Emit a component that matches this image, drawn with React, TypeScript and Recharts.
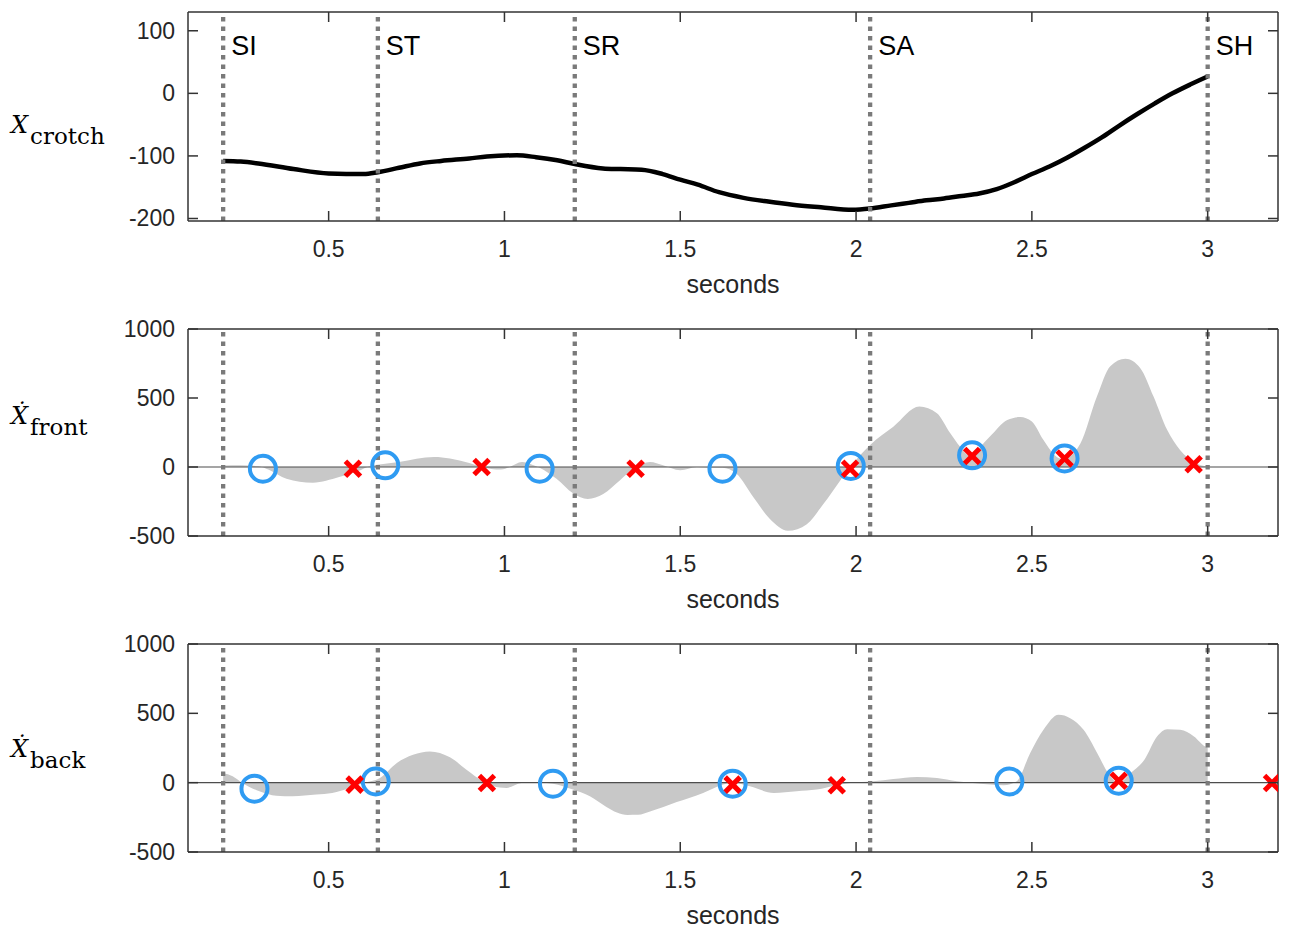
import React from 'react';
import {
  ComposedChart,
  Line,
  Area,
  Scatter,
  XAxis,
  YAxis,
  ReferenceLine
} from 'recharts';

// Gait phase events (seconds) and their names
const eventTimes = [0.2, 0.64, 1.2, 2.04, 3.0];
const eventNames = ['SI', 'ST', 'SR', 'SA', 'SH'];

const xTicks = [0.5, 1, 1.5, 2, 2.5, 3];
const posTicks = [-200, -100, 0, 100];
const velTicks = [-500, 0, 500, 1000];

// Crotch position
const crotchTime = [0.2, 0.25, 0.3, 0.4, 0.5, 0.6, 0.64, 0.7, 0.76, 0.82, 0.9, 0.95, 1.035, 1.09, 1.15, 1.2, 1.28, 1.33, 1.39, 1.45, 1.5, 1.55, 1.61, 1.68, 1.75, 1.82, 1.9, 1.99, 2.04, 2.1, 2.15, 2.2, 2.25, 2.3, 2.35, 2.4, 2.45, 2.5, 2.55, 2.6, 2.65, 2.7, 2.75, 2.8, 2.85, 2.9, 2.95, 3.0];
const crotchPos = [-108, -109, -112, -121, -128, -129, -126, -119, -112, -108, -104, -101, -99, -102, -107, -113, -120, -121, -122, -129, -138, -146, -158, -167, -173, -178, -182, -186, -184, -179, -175, -171, -168, -164, -160, -153, -142, -129, -117, -103, -87, -70, -51, -33, -16, 0, 14, 27];

// Front velocity
const frontTime = [0.2, 0.25, 0.3, 0.33, 0.38, 0.455, 0.53, 0.59, 0.61, 0.7, 0.8, 0.845, 0.9, 0.935, 0.99, 1.015, 1.05, 1.077, 1.1, 1.148, 1.195, 1.237, 1.281, 1.328, 1.373, 1.414, 1.451, 1.5, 1.547, 1.584, 1.62, 1.66, 1.708, 1.755, 1.806, 1.86, 1.907, 1.955, 1.983, 2.04, 2.106, 2.18, 2.23, 2.268, 2.296, 2.32, 2.38, 2.43, 2.467, 2.5, 2.533, 2.571, 2.59, 2.638, 2.685, 2.723, 2.766, 2.808, 2.846, 2.885, 2.922, 2.96, 3.0];
const frontVel = [10, 12, 5, -20, -85, -114, -73, -24, 0, 37, 73, 62, 29, 0, -19, 0, 36, 19, -5, -85, -190, -231, -195, -97, 0, 36, 12, -24, 0, -5, -5, -49, -219, -377, -462, -414, -268, -97, 0, 160, 292, 438, 390, 244, 146, 85, 219, 340, 362, 329, 195, 73, 58, 170, 511, 730, 784, 718, 511, 268, 122, 37, 2];

// Back velocity
const backTime = [0.2, 0.227, 0.253, 0.303, 0.351, 0.398, 0.465, 0.51, 0.56, 0.599, 0.646, 0.694, 0.74, 0.788, 0.845, 0.892, 0.939, 0.968, 1.006, 1.048, 1.091, 1.138, 1.195, 1.243, 1.29, 1.32, 1.35, 1.38, 1.414, 1.49, 1.565, 1.622, 1.649, 1.698, 1.766, 1.831, 1.888, 1.945, 1.983, 2.049, 2.106, 2.173, 2.23, 2.287, 2.325, 2.381, 2.42, 2.457, 2.495, 2.533, 2.576, 2.609, 2.647, 2.686, 2.714, 2.747, 2.781, 2.82, 2.856, 2.885, 2.922, 2.961, 2.993, 3.0];
const backVel = [70, 46, 0, -62, -94, -98, -86, -74, -38, -2, 34, 142, 201, 225, 183, 94, 10, -26, -38, -2, 2, -7, -50, -98, -175, -215, -233, -232, -208, -140, -74, -14, 2, -26, -74, -62, -50, -19, -2, 10, 26, 41, 34, 10, 0, -14, -19, 10, 213, 381, 489, 465, 381, 213, 81, 0, 70, 165, 333, 386, 381, 333, 261, 255];

// Detected events (circles and crosses)
const frontCircleTime = [0.313, 0.661, 1.1, 1.62, 1.985, 2.33, 2.593];
const frontCircleVel = [-12, 12, -12, -12, 8, 85, 62];
const frontCrossTime = [0.569, 0.935, 1.373, 1.983, 2.33, 2.593, 2.96];
const frontCrossVel = [-12, 0, -12, -12, 80, 62, 20];
const backCircleTime = [0.289, 0.634, 1.138, 1.649, 2.436, 2.747];
const backCircleVel = [-43, 9, -7, -7, 9, 14];
const backCrossTime = [0.574, 0.95, 1.649, 1.945, 2.747, 3.183];
const backCrossVel = [-14, -2, -14, -19, 14, -2];

const toPoints = (t: number[], v: number[]) => t.map((x, i) => ({ t: x, v: v[i] }));

const crotchData = toPoints(crotchTime, crotchPos);
const frontData = toPoints(frontTime, frontVel);
const backData = toPoints(backTime, backVel);
const frontCircles = toPoints(frontCircleTime, frontCircleVel);
const frontCrosses = toPoints(frontCrossTime, frontCrossVel);
const backCircles = toPoints(backCircleTime, backCircleVel);
const backCrosses = toPoints(backCrossTime, backCrossVel);

const X_DOMAIN: [number, number] = [0.1, 3.2];
const FRAME = '#333333';
const INK = '#262626';
const BLUE = '#2f9bf2';
const RED = '#ff0000';
const SANS = '"Liberation Sans", Arial, Helvetica, sans-serif';
const SERIF = '"DejaVu Serif", serif';
const TICK_LEN = 10;
const WIDTH = 1295;

// MATLAB-style ticks: short marks pointing into the plot box
const BottomTick = (p: any) => (
  <g>
    <path d={`M${p.x},${p.y}V${p.y - TICK_LEN}`} stroke={FRAME} strokeWidth={1.5} fill="none" />
    <text x={p.x} y={p.y + 36} textAnchor="middle" fontFamily={SANS} fontSize={23} fill={INK} stroke="none">
      {p.payload.value}
    </text>
  </g>
);

const TopTick = (p: any) => (
  <path d={`M${p.x},${p.y}V${p.y + TICK_LEN}`} stroke={FRAME} strokeWidth={1.5} fill="none" />
);

const LeftTick = (p: any) => (
  <g>
    <path d={`M${p.x},${p.y}H${p.x + TICK_LEN}`} stroke={FRAME} strokeWidth={1.5} fill="none" />
    <text x={p.x - 13} y={p.y + 8} textAnchor="end" fontFamily={SANS} fontSize={23} fill={INK} stroke="none">
      {p.payload.value}
    </text>
  </g>
);

const RightTick = (p: any) => (
  <path d={`M${p.x},${p.y}H${p.x - TICK_LEN}`} stroke={FRAME} strokeWidth={1.5} fill="none" />
);

const Ring = (p: any) => (
  <circle cx={p.cx} cy={p.cy} r={13} fill="none" stroke={BLUE} strokeWidth={4} />
);

const Cross = (p: any) => (
  <g stroke={RED} strokeWidth={5}>
    <line x1={p.cx - 7.5} y1={p.cy - 7.5} x2={p.cx + 7.5} y2={p.cy + 7.5} />
    <line x1={p.cx - 7.5} y1={p.cy + 7.5} x2={p.cx + 7.5} y2={p.cy - 7.5} />
  </g>
);

// y-axis title: X (or X-dot) with an upright subscript
const yTitle = (sub: string, dotted: boolean, dy: number) => (props: any) => {
  const vb = props.viewBox || { y: 0, height: 0 };
  const base = vb.y + vb.height / 2 + dy;
  return (
    <text x={11} y={base} fill="#000" fontFamily={SERIF}>
      <tspan fontStyle="italic" fontSize={24}>{dotted ? '\u1E8A' : 'X'}</tspan>
      <tspan dx={2} dy={11} fontSize={23}>{sub}</tspan>
    </text>
  );
};

const eventTag = (name: string) => (props: any) => {
  const vb = props.viewBox || { x: 0, y: 0 };
  return (
    <text x={vb.x + 8} y={vb.y + 43} fontFamily={SANS} fontSize={27} fill="#000">
      {name}
    </text>
  );
};

const axisLine = { stroke: FRAME, strokeWidth: 1.5 };

const frameAxes = (yDomain: [number, number], yTicks: number[], title: any) => [
  <XAxis
    key="xb"
    type="number"
    dataKey="t"
    domain={X_DOMAIN}
    ticks={xTicks}
    interval={0}
    allowDataOverflow
    height={72}
    tickSize={0}
    tickMargin={0}
    tickLine={false}
    axisLine={axisLine}
    tick={BottomTick}
    label={{ value: 'seconds', position: 'insideBottom', offset: 0, fontSize: 25, fill: INK, fontFamily: SANS }}
  />,
  <XAxis
    key="xt"
    xAxisId="top"
    orientation="top"
    type="number"
    dataKey="t"
    domain={X_DOMAIN}
    ticks={xTicks}
    interval={0}
    allowDataOverflow
    height={1}
    tickSize={0}
    tickMargin={0}
    tickLine={false}
    axisLine={axisLine}
    tick={TopTick}
  />,
  <YAxis
    key="yl"
    type="number"
    domain={yDomain}
    ticks={yTicks}
    interval={0}
    allowDataOverflow
    width={60}
    tickSize={0}
    tickMargin={0}
    tickLine={false}
    axisLine={axisLine}
    tick={LeftTick}
    label={title}
  />,
  <YAxis
    key="yr"
    yAxisId="right"
    orientation="right"
    type="number"
    domain={yDomain}
    ticks={yTicks}
    interval={0}
    allowDataOverflow
    width={1}
    tickSize={0}
    tickMargin={0}
    tickLine={false}
    axisLine={axisLine}
    tick={RightTick}
  />
];

const eventLines = (named: boolean) =>
  eventTimes.map((t, i) => (
    <ReferenceLine
      key={'ev' + i}
      x={t}
      stroke="#7a7a7a"
      strokeWidth={4.3}
      strokeDasharray="4.5 5"
      label={named ? eventTag(eventNames[i]) : undefined}
    />
  ));

const markers = (circles: any[], crosses: any[]) => [
  <Scatter key="ring" data={circles} dataKey="v" shape={Ring} isAnimationActive={false} />,
  <Scatter key="cross" data={crosses} dataKey="v" shape={Cross} isAnimationActive={false} />
];

const App = () => (
  <div style={{ position: 'absolute', left: 0, top: 0, width: WIDTH, height: 929, background: '#fff' }}>
    <div style={{ position: 'absolute', left: 0, top: 0 }}>
      <ComposedChart width={WIDTH} height={310} margin={{ top: 11, right: 16, bottom: 17, left: 128 }}>
        {frameAxes([-204, 130], posTicks, yTitle('crotch', false, 16))}
        <Line
          data={crotchData}
          dataKey="v"
          type="monotone"
          stroke="#000"
          strokeWidth={4.5}
          dot={false}
          isAnimationActive={false}
        />
        {eventLines(true)}
      </ComposedChart>
    </div>

    <div style={{ position: 'absolute', left: 0, top: 310 }}>
      <ComposedChart width={WIDTH} height={316} margin={{ top: 18, right: 16, bottom: 18, left: 128 }}>
        {frameAxes([-500, 1000], velTicks, yTitle('front', true, -9))}
        <Area
          data={frontData}
          dataKey="v"
          type="monotone"
          baseValue={0}
          fill="#c8c8c8"
          fillOpacity={1}
          stroke="none"
          isAnimationActive={false}
        />
        <ReferenceLine y={0} stroke="#4d4d4d" strokeWidth={1.2} />
        {eventLines(false)}
        {markers(frontCircles, frontCrosses)}
      </ComposedChart>
    </div>

    <div style={{ position: 'absolute', left: 0, top: 626 }}>
      <ComposedChart width={WIDTH} height={303} margin={{ top: 17, right: 16, bottom: 5, left: 128 }}>
        {frameAxes([-500, 1000], velTicks, yTitle('back', true, 9))}
        <Area
          data={backData}
          dataKey="v"
          type="monotone"
          baseValue={0}
          fill="#c8c8c8"
          fillOpacity={1}
          stroke="none"
          isAnimationActive={false}
        />
        <ReferenceLine y={0} stroke="#4d4d4d" strokeWidth={1.2} />
        {eventLines(false)}
        {markers(backCircles, backCrosses)}
      </ComposedChart>
    </div>
  </div>
);

export default App;
